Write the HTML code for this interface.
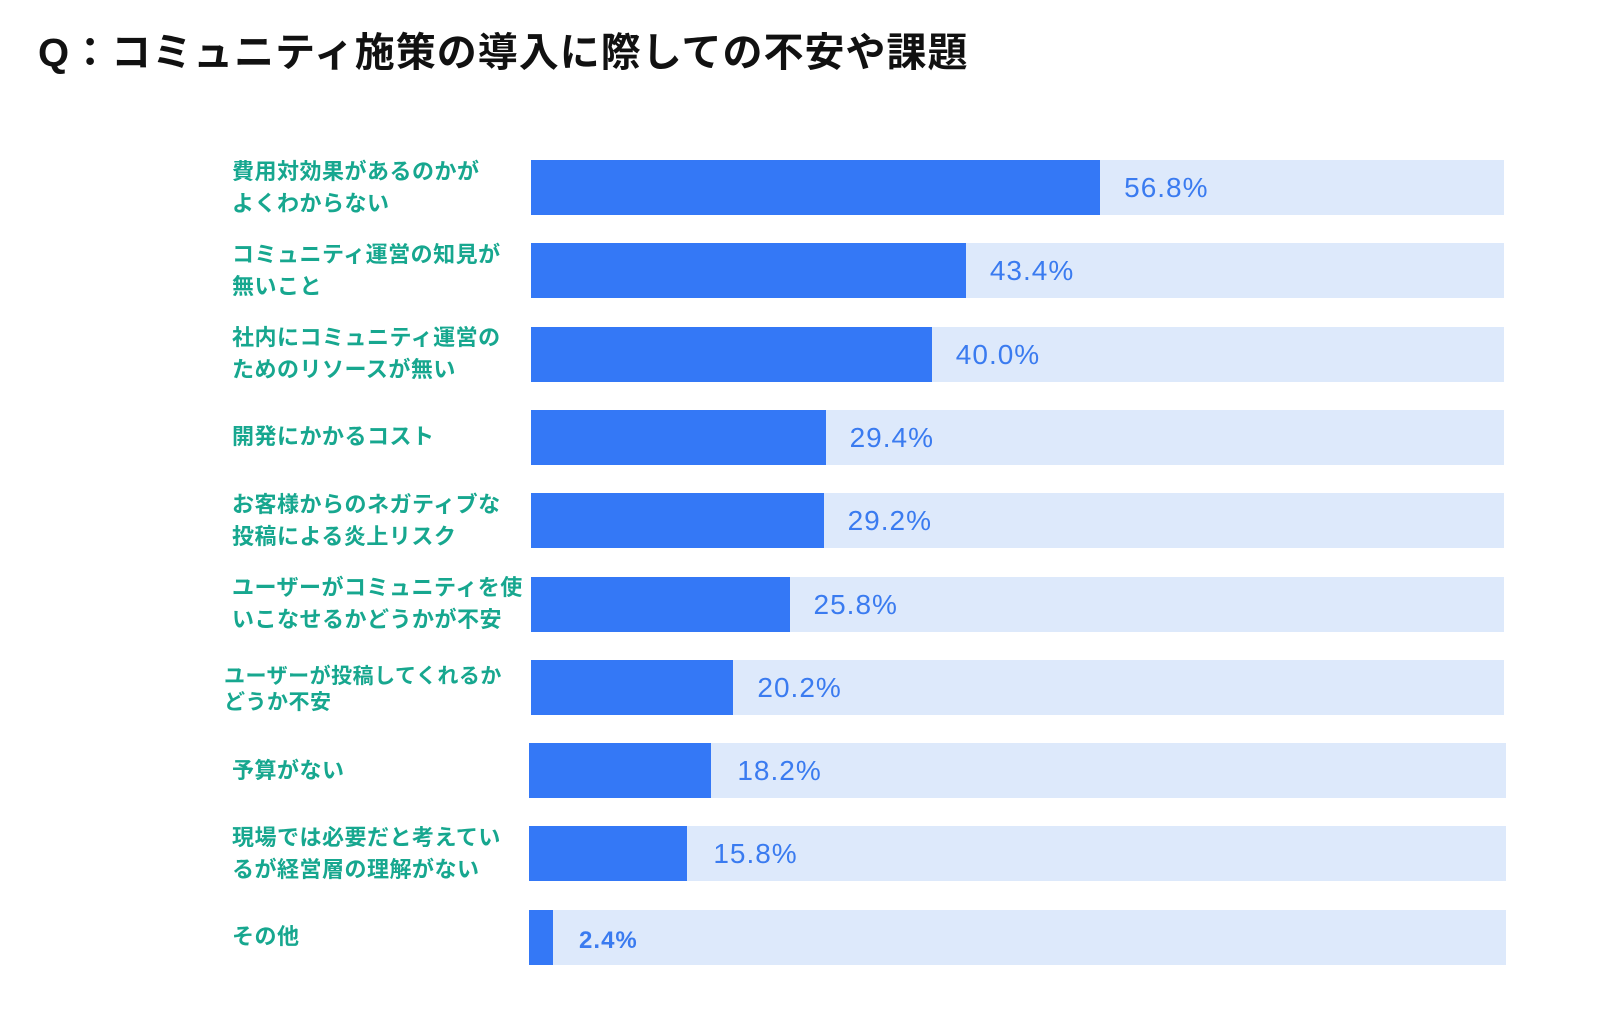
<!DOCTYPE html>
<html><head><meta charset="utf-8">
<style>
body{margin:0;width:1604px;height:1026px;background:#fff;overflow:hidden;font-family:"Liberation Sans","Noto Sans CJK JP",sans-serif;}
#title{position:absolute;left:38px;top:20px;font-size:40px;font-weight:bold;color:#111;letter-spacing:1px;}
.lbl{position:absolute;left:232px;width:300px;color:#17a78f;font-weight:bold;font-size:22px;line-height:32px;letter-spacing:0.5px;white-space:nowrap;}
.track{position:absolute;left:531px;width:973px;height:55px;background:#dde9fb;}
.bar{position:absolute;left:531px;height:55px;background:#3478f6;}
.val{position:absolute;color:#3a7bf0;font-size:28px;line-height:55px;letter-spacing:1px;}
</style></head><body>
<div id="title">Q：コミュニティ施策の導入に際しての不安や課題</div>
<div id="chart"></div>
<script>
const categories=["費用対効果があるのかが<br>よくわからない","コミュニティ運営の知見が<br>無いこと","社内にコミュニティ運営の<br>ためのリソースが無い","開発にかかるコスト","お客様からのネガティブな<br>投稿による炎上リスク","ユーザーがコミュニティを使<br>いこなせるかどうかが不安","ユーザーが投稿してくれるか<br>どうか不安","予算がない","現場では必要だと考えてい<br>るが経営層の理解がない","その他"];
const values=[56.8,43.4,40.0,29.4,29.2,25.8,20.2,18.2,15.8,2.4];
const valueLabels=["56.8%","43.4%","40.0%","29.4%","29.2%","25.8%","20.2%","18.2%","15.8%","2.4%"];
const x=v=>v*10.02;
const y=i=>160+i*83.3;
const c=document.getElementById('chart');
categories.forEach((cat,i)=>{
  const top=y(i);
  const t=document.createElement('div');t.className='track';t.style.top=top+'px';
  if(i>=7){t.style.left='529px';t.style.width='977px';}
  
  
  c.appendChild(t);
  const b=document.createElement('div');b.className='bar';b.style.top=top+'px';b.style.width=x(values[i])+'px';
  if(i>=7){b.style.left='529px';}
  
  
  c.appendChild(b);
  const v=document.createElement('div');v.className='val';v.style.top=top+'px';v.style.left=(531+x(values[i])+24)+'px';v.textContent=valueLabels[i];
  if(i==categories.length-1){v.style.fontSize='24px';v.style.fontWeight='bold';v.style.top=(top+3)+'px';}
  
  
  c.appendChild(v);
  const l=document.createElement('div');l.className='lbl';l.innerHTML=cat;
  const lines=cat.split('<br>').length;
  l.style.top=(top+27.5-lines*16)+'px';
  if(i==6){l.style.left='224px';l.style.lineHeight='26px';l.style.top=(top+30-26)+'px';l.style.fontSize='21px';}
  
  
  c.appendChild(l);
});
</script>
</body></html>
